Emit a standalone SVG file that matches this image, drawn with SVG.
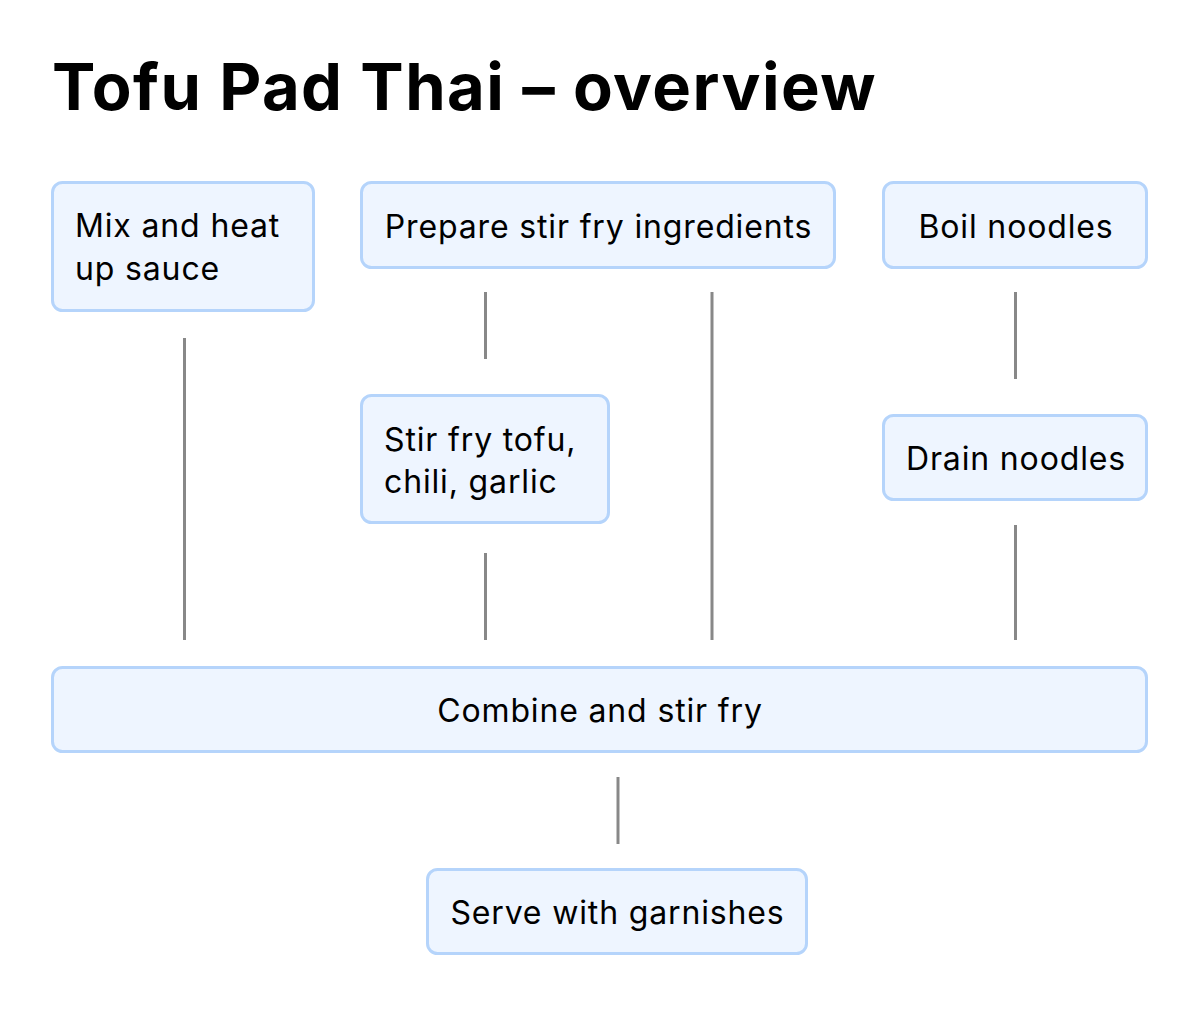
<svg xmlns="http://www.w3.org/2000/svg" width="1200" height="1021" viewBox="0 0 1200 1021">
<style>
.node rect{fill:#EEF5FF;stroke:#B5D4FB;stroke-width:3}
.node text{font-family:Inter,"Noto Sans",sans-serif;font-size:32px;letter-spacing:0.85px;fill:#000}
.c{text-anchor:middle}
.title{font-family:Inter,"Noto Sans",sans-serif;font-size:65px;font-weight:700;letter-spacing:1.45px;fill:#000}
#connectors line{stroke:#888;stroke-width:3}
</style>
<rect width="1200" height="1021" fill="#fff"/>
<text class="title" x="52" y="110">Tofu Pad Thai – overview</text>
<g id="connectors">
<line x1="184.5" y1="338" x2="184.5" y2="640"/>
<line x1="485.5" y1="292" x2="485.5" y2="359"/>
<line x1="712" y1="292" x2="712" y2="640"/>
<line x1="1015.5" y1="292" x2="1015.5" y2="379"/>
<line x1="485.5" y1="553" x2="485.5" y2="640"/>
<line x1="1015.5" y1="525" x2="1015.5" y2="640"/>
<line x1="618" y1="777" x2="618" y2="844"/>
</g>
<g id="mix" class="node"><rect x="52.5" y="182.5" width="261" height="128" rx="10"/><text x="75" y="237">Mix and heat</text><text x="75" y="280">up sauce</text></g>
<g id="prepare" class="node"><rect x="361.5" y="182.5" width="473" height="85" rx="10"/><text class="c" x="598.5" y="238">Prepare stir fry ingredients</text></g>
<g id="boil" class="node"><rect x="883.5" y="182.5" width="263" height="85" rx="10"/><text class="c" x="1016" y="238">Boil noodles</text></g>
<g id="stirfry" class="node"><rect x="361.5" y="395.5" width="247" height="127" rx="10"/><text x="384" y="451">Stir fry tofu,</text><text x="384" y="493">chili, garlic</text></g>
<g id="drain" class="node"><rect x="883.5" y="415.5" width="263" height="84" rx="10"/><text class="c" x="1016" y="470">Drain noodles</text></g>
<g id="combine" class="node"><rect x="52.5" y="667.5" width="1094" height="84" rx="10"/><text class="c" x="600" y="722">Combine and stir fry</text></g>
<g id="serve" class="node"><rect x="427.5" y="869.5" width="379" height="84" rx="10"/><text class="c" x="617.5" y="924">Serve with garnishes</text></g>
</svg>
